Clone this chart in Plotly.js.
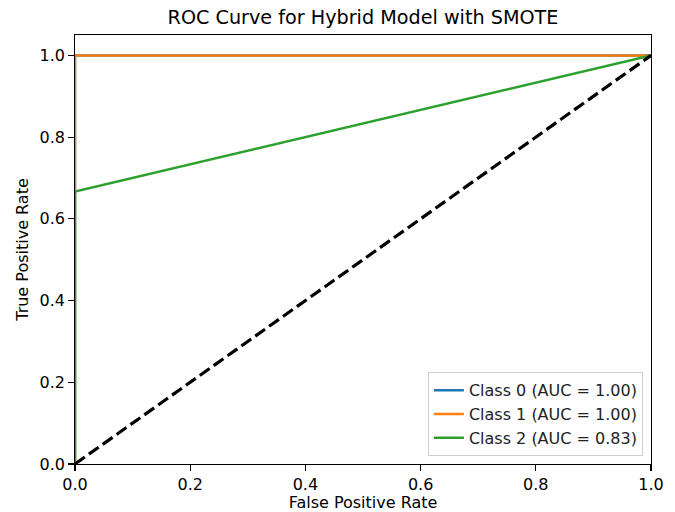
<!DOCTYPE html>
<html>
<head>
<meta charset="utf-8">
<script src="https://cdn.plot.ly/plotly-3.0.1.min.js"></script>
<style>body{margin:0;padding:0;background:#fff}#chart{width:675px;height:512px}</style>
</head>
<body>
<div id="chart"></div>
<script>
const class0Fpr = [0, 0, 1];
const class0Tpr = [0, 1, 1];
const class1Fpr = [0, 0, 1];
const class1Tpr = [0, 1, 1];
const class2Fpr = [0, 0, 1];
const class2Tpr = [0, 0.667, 1];
const diagX = [0, 1];
const diagY = [0, 1];
const seriesNames = ["Class 0 (AUC = 1.00)", "Class 1 (AUC = 1.00)", "Class 2 (AUC = 0.83)"];
const tickVals = [0, 0.2, 0.4, 0.6, 0.8, 1.0];
const tickText = ["0.0", "0.2", "0.4", "0.6", "0.8", "1.0"];

const font = "DejaVu Sans, sans-serif";
const traces = [
  {x: class0Fpr, y: class0Tpr, mode: "lines", name: seriesNames[0], line: {color: "#1f77b4", width: 2.4}},
  {x: class1Fpr, y: class1Tpr, mode: "lines", name: seriesNames[1], line: {color: "#ff7f0e", width: 2.4}},
  {x: class2Fpr, y: class2Tpr, mode: "lines", name: seriesNames[2], line: {color: "#2ca02c", width: 2.4}},
  {x: diagX, y: diagY, mode: "lines", showlegend: false, line: {color: "black", width: 3.2, dash: "12px,5px"}}
];
const axisCommon = {
  showline: true, mirror: true, linecolor: "black", linewidth: 1.2,
  ticks: "outside", ticklen: 5.6, tickcolor: "black", tickwidth: 1.2,
  showgrid: false, zeroline: false,
  tickvals: tickVals, ticktext: tickText,
  tickfont: {family: font, size: 16, color: "black"}
};
const layout = {
  width: 675, height: 512,
  margin: {l: 75, r: 24, t: 35, b: 48},
  paper_bgcolor: "white", plot_bgcolor: "white",
  title: {text: "ROC Curve for Hybrid Model with SMOTE", font: {family: font, size: 19.2, color: "black"}, xref: "paper", x: 0.5, xanchor: "center", yref: "container", y: 0.967, yanchor: "middle"},
  xaxis: Object.assign({}, axisCommon, {range: [0, 1], title: {text: "False Positive Rate", font: {family: font, size: 16, color: "black"}, standoff: 5}}),
  yaxis: Object.assign({}, axisCommon, {range: [0, 1.05], title: {text: "True Positive Rate", font: {family: font, size: 16, color: "black"}, standoff: 7}}),
  legend: {x: 0.986, xanchor: "right", y: 0.018, yanchor: "bottom", bordercolor: "#d0d0d0", borderwidth: 1, bgcolor: "rgba(255,255,255,0.8)", font: {family: font, size: 16, color: "#222"}, tracegroupgap: 0},
  showlegend: true
};
Plotly.newPlot("chart", traces, layout, {displayModeBar: false, staticPlot: true});
</script>
</body>
</html>
